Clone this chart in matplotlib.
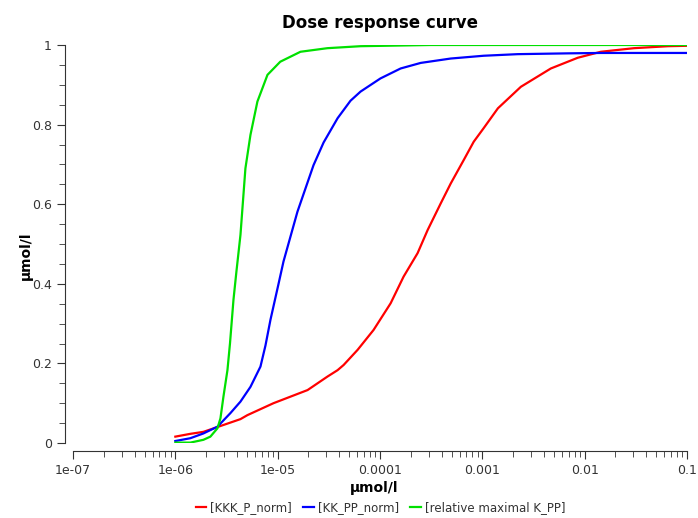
import matplotlib
matplotlib.use("Agg")
import matplotlib.pyplot as plt
import numpy as np

# concentrations (umol/l) and normalised responses for each species
kkk_conc = [1.00e-6, 1.40e-6, 1.88e-6, 2.64e-6, 4.33e-6, 5.06e-6, 9.10e-6, 1.96e-5,
            3.07e-5, 3.85e-5, 4.41e-5, 6.04e-5, 8.65e-5, 1.27e-4, 1.70e-4, 2.33e-4,
            2.92e-4, 3.92e-4, 4.91e-4, 6.58e-4, 8.24e-4, 1.03e-3, 1.42e-3, 2.38e-3,
            4.67e-3, 8.57e-3, 1.44e-2, 3.03e-2, 6.52e-2, 1.00e-1]
kkk_p_norm = [0.016, 0.023, 0.028, 0.041, 0.060, 0.070, 0.100, 0.133,
              0.167, 0.183, 0.196, 0.234, 0.284, 0.351, 0.418, 0.477,
              0.535, 0.602, 0.652, 0.711, 0.757, 0.791, 0.841, 0.895,
              0.941, 0.968, 0.983, 0.992, 0.997, 0.998]

kk_conc = [1.00e-6, 1.40e-6, 1.88e-6, 2.58e-6, 3.45e-6, 4.33e-6, 5.42e-6, 6.79e-6,
           7.60e-6, 8.51e-6, 1.02e-5, 1.14e-5, 1.56e-5, 2.24e-5, 2.81e-5, 3.85e-5,
           5.15e-5, 6.46e-5, 1.01e-4, 1.59e-4, 2.50e-4, 4.91e-4, 1.03e-3, 2.22e-3,
           6.86e-3, 1.44e-2, 1.00e-1]
kk_pp_norm = [0.005, 0.012, 0.024, 0.041, 0.075, 0.104, 0.141, 0.192,
              0.245, 0.310, 0.400, 0.456, 0.581, 0.698, 0.755, 0.816,
              0.860, 0.883, 0.916, 0.941, 0.955, 0.966, 0.973, 0.977,
              0.979, 0.980, 0.980]

rel_conc = [1.00e-6, 1.40e-6, 1.88e-6, 2.20e-6, 2.58e-6, 2.76e-6, 2.95e-6, 3.23e-6,
            3.42e-6, 3.70e-6, 3.95e-6, 4.33e-6, 4.84e-6, 5.42e-6, 6.34e-6, 7.95e-6,
            1.06e-5, 1.67e-5, 3.06e-5, 6.46e-5, 3.12e-4, 1.00e-1]
rel_max_kpp = [0.001, 0.001, 0.008, 0.016, 0.037, 0.062, 0.116, 0.183,
               0.250, 0.360, 0.430, 0.523, 0.690, 0.774, 0.858, 0.925,
               0.958, 0.983, 0.992, 0.997, 1.000, 1.000]

labels = ["[KKK_P_norm]", "[KK_PP_norm]", "[relative maximal K_PP]"]
colors = ["#ff0000", "#0000ff", "#00e000"]

xticks = [1e-7, 1e-6, 1e-5, 1e-4, 1e-3, 1e-2, 1e-1]
xticklabels = ["1e-07", "1e-06", "1e-05", "0.0001", "0.001", "0.01", "0.1"]
yticks = [0, 0.2, 0.4, 0.6, 0.8, 1]
yticklabels = ["0", "0.2", "0.4", "0.6", "0.8", "1"]

fig = plt.figure(figsize=(6.98, 5.18), dpi=100)
ax = fig.add_axes([73 / 698, 1 - 443 / 518, 614 / 698, 398 / 518])

series = [(kkk_conc, kkk_p_norm), (kk_conc, kk_pp_norm), (rel_conc, rel_max_kpp)]
for (xs, ys), lab, col in zip(series, labels, colors):
    ax.plot(xs, ys, color=col, lw=1.6, label=lab)

ax.set_xscale("log")
ax.set_xlim(1e-7, 1e-1)
ax.set_ylim(0, 1)
ax.set_xticks(xticks)
ax.set_xticklabels(xticklabels)
ax.set_yticks(yticks)
ax.set_yticklabels(yticklabels)
ax.yaxis.set_minor_locator(matplotlib.ticker.MultipleLocator(0.05))

grey = "#333333"
for side in ("top", "right"):
    ax.spines[side].set_visible(False)
for side in ("left", "bottom"):
    ax.spines[side].set_position(("outward", 5.8))
    ax.spines[side].set_color(grey)
ax.tick_params(which="major", length=6, color=grey, labelcolor=grey, labelsize=9)
ax.tick_params(which="minor", length=4, color=grey)

ax.set_title("Dose response curve", fontsize=12, fontweight="bold", pad=12)
ax.set_xlabel("µmol/l", fontsize=10, fontweight="bold")
ax.set_ylabel("µmol/l", fontsize=10, fontweight="bold")
ax.xaxis.set_label_coords(0.49, -0.095)
ax.yaxis.set_label_coords(-0.066, 0.47)

fig.legend(loc="center", bbox_to_anchor=(0.545, 10 / 518), ncol=3, frameon=False,
           fontsize=8.5, handlelength=0.9, handletextpad=0.3, columnspacing=1.0,
           labelcolor=grey, borderaxespad=0)

fig.savefig("out.png", dpi=100)
